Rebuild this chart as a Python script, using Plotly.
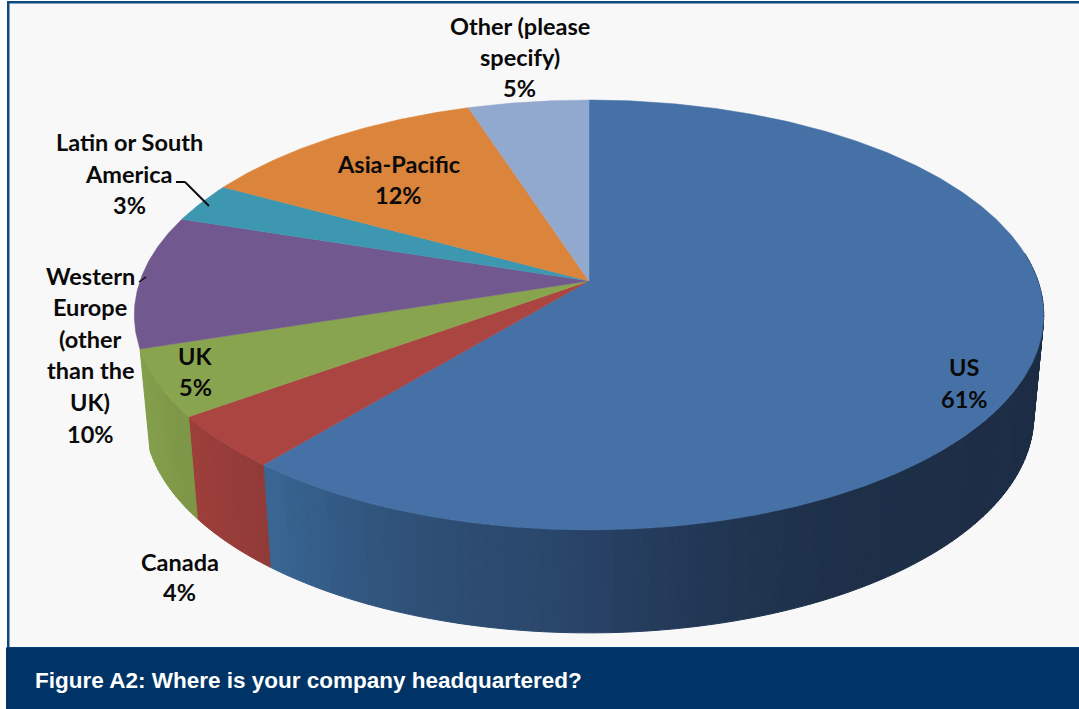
import math
import plotly.graph_objects as go

# Survey shares, clockwise from twelve o'clock
categories = ["US", "Canada", "UK", "Western Europe (other than the UK)",
              "Latin or South America", "Asia-Pacific", "Other (please specify)"]
shares = [61, 4, 5, 10, 3, 12, 5]
face_colors = ["#4571a6", "#ab4542", "#89a44e", "#71588f", "#3e97b0", "#db843c", "#92a9cf"]

# Rim colours run left to right along the visible wall: (pixel x, colour)
rim_stops = {
    "US": [(259, "#3a6795"), (330, "#335b85"), (420, "#2f4f75"), (560, "#29456a"),
           (700, "#223755"), (830, "#1e3049"), (1044, "#1c2c44")],
    "Canada": [(178, "#9f3f3b"), (259, "#913b38")],
    "UK": [(137, "#84a04c"), (178, "#7d9647")],
}

# Label text, one entry per line: (text, centre x, centre y)
label_lines = [
    ("Other (please", 519.5, 26), ("specify)", 519.5, 57), ("5%", 519.5, 88),
    ("Latin or South", 129, 142), ("America", 129, 174), ("3%", 129, 205),
    ("Asia-Pacific", 398, 164), ("12%", 398, 195),
    ("Western", 90, 276), ("Europe", 90, 307), ("(other", 90, 339),
    ("than the", 90, 370), ("UK)", 90, 402), ("10%", 90, 434),
    ("UK", 195, 356), ("5%", 195, 387),
    ("Canada", 179.5, 562), ("4%", 179.5, 592),
    ("US", 964, 367), ("61%", 964, 399),
]
caption = "Figure A2: Where is your company headquartered?"

# Projection of the tilted disc
CX, CY, A, B, K = 589, 281, 449, 209.6, 0.158
WALL_CY_TOP, WALL_CY_BOTTOM = 315, 416
WALL_SX, WALL_SY = 0.978, 1.009


def top_point(turn):
    """Point on the upper rim at a given fraction of a full turn."""
    ang = 2 * math.pi * turn
    u, v = math.sin(ang), -math.cos(ang)
    w = 1 - K * v
    return CX + A * u / w, CY + B * v / w


def bottom_point(turn):
    x, y = top_point(turn)
    return CX + (x - CX) * WALL_SX, WALL_CY_BOTTOM + (y - WALL_CY_TOP) * WALL_SY


def mix(stops, x):
    def rgb(h):
        return [int(h[i:i + 2], 16) for i in (1, 3, 5)]
    if x <= stops[0][0]:
        return stops[0][1]
    for (x0, c0), (x1, c1) in zip(stops, stops[1:]):
        if x <= x1:
            t = (x - x0) / (x1 - x0)
            vals = [round(a + (b - a) * t) for a, b in zip(rgb(c0), rgb(c1))]
            return "rgb({},{},{})".format(*vals)
    return stops[-1][1]


fig = go.Figure()
total = sum(shares)

# Wall of the disc: narrow quads per slice, shaded along x
start = 0.0
bounds = []
for name, share in zip(categories, shares):
    end = start + share / total
    bounds.append((start, end))
    if name in rim_stops:
        n = max(2, int((end - start) * 360))
        for i in range(n):
            t0 = start + (end - start) * i / n
            t1 = start + (end - start) * (i + 1) / n
            xa, ya = top_point(t0)
            xb, yb = top_point(t1)
            xc, yc = bottom_point(t1)
            xd, yd = bottom_point(t0)
            if ya < WALL_CY_TOP - 60 and yb < WALL_CY_TOP - 60:
                continue
            col = mix(rim_stops[name], (xa + xb) / 2)
            fig.add_trace(go.Scatter(x=[xa, xb, xc, xd, xa], y=[ya, yb, yc, yd, ya],
                                     mode="lines", fill="toself", fillcolor=col,
                                     line=dict(color=col, width=1), hoverinfo="skip",
                                     showlegend=False))
    start = end

# Upper face of each slice
for name, col, (t0, t1) in zip(categories, face_colors, bounds):
    n = max(8, int((t1 - t0) * 720))
    pts = [top_point(t0 + (t1 - t0) * i / n) for i in range(n + 1)]
    xs = [CX] + [p[0] for p in pts] + [CX]
    ys = [CY] + [p[1] for p in pts] + [CY]
    fig.add_trace(go.Scatter(x=xs, y=ys, mode="lines", fill="toself", fillcolor=col,
                             line=dict(color=col, width=0.5), name=name,
                             hoverinfo="name", showlegend=False))

for text, x, y in label_lines:
    fig.add_annotation(x=x, y=y, text=f"<b>{text}</b>", showarrow=False,
                       xanchor="center", yanchor="middle",
                       font=dict(family="Lato", size=23.5, color="#0a0a0a"))

fig.add_annotation(x=33, y=680, text=f"<b>{caption}</b>", showarrow=False,
                   xanchor="left", yanchor="middle",
                   font=dict(family="Liberation Sans", size=22.5, color="#ffffff"))

panel = [
    dict(type="rect", x0=7, x1=1079, y0=1, y1=648, fillcolor="#0d4a80", line_width=0),
    dict(type="rect", x0=9.5, x1=1079, y0=3.5, y1=647, fillcolor="#f8f8f8", line_width=0),
    dict(type="rect", x0=6, x1=1079, y0=647.5, y1=709, fillcolor="#003466", line_width=0),
]
leaders = [
    dict(type="line", x0=176, y0=182, x1=185, y1=182, line=dict(color="#0a0a0a", width=2), layer="above"),
    dict(type="line", x0=185, y0=182, x1=209, y1=206, line=dict(color="#0a0a0a", width=2), layer="above"),
    dict(type="line", x0=139, y0=282, x1=146, y1=277, line=dict(color="#0a0a0a", width=1.5), layer="above"),
]

fig.update_layout(
    width=1079, height=709, autosize=False,
    margin=dict(l=0, r=0, t=0, b=0),
    paper_bgcolor="#ffffff", plot_bgcolor="#ffffff",
    xaxis=dict(range=[0, 1079], visible=False, fixedrange=True),
    yaxis=dict(range=[709, 0], visible=False, fixedrange=True),
    shapes=[dict(s, layer="below") for s in panel] + leaders,
    showlegend=False,
)

fig.write_html("out.html", config=dict(displayModeBar=False))
